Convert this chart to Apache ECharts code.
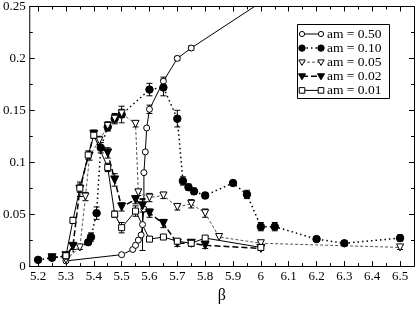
<!DOCTYPE html>
<html><head><meta charset="utf-8">
<script src="https://cdn.jsdelivr.net/npm/echarts@6/dist/echarts.min.js"></script>
<style>html,body{margin:0;padding:0;background:#fff}#c{width:415px;height:309px}</style>
</head><body><div id="c"></div>
<script>
// ---- data ----
const xMajor = [5.2,5.3,5.4,5.5,5.6,5.7,5.8,5.9,6.0,6.1,6.2,6.3,6.4,6.5];
const xTickLabels = ['5.2','5.3','5.4','5.5','5.6','5.7','5.8','5.9','6','6.1','6.2','6.3','6.4','6.5'];
const xMinor = [5.25,5.35,5.45,5.55,5.65,5.75,5.85,5.95,6.05,6.15,6.25,6.35,6.45];
const yTickLabels = ['0','0.05','0.1','0.15','0.2','0.25'];

const am050 = [[5.3,0.005],[5.5,0.011],[5.54,0.016],[5.55,0.02],[5.56,0.025],[5.57,0.03],[5.575,0.04],[5.58,0.055],[5.58,0.09],[5.585,0.11],[5.59,0.133],[5.6,0.151],[5.65,0.178],[5.7,0.2],[5.75,0.21],[6.0,0.254]];
const err050 = [0,0,0,0,0,0,0.025,0,0,0,0,0.004,0.004,0.002,0.002,0];

const am010 = [[5.2,0.006],[5.25,0.008],[5.3,0.0095],[5.38,0.023],[5.39,0.028],[5.41,0.051],[5.425,0.114],[5.45,0.134],[5.475,0.142],[5.5,0.146],[5.6,0.170],[5.65,0.172],[5.7,0.142],[5.72,0.082],[5.74,0.076],[5.76,0.072],[5.8,0.068],[5.9,0.080],[5.95,0.069],[6.0,0.038],[6.05,0.038],[6.2,0.026],[6.3,0.022],[6.5,0.027]];
const err010 = [0,0,0.002,0.002,0.004,0.006,0.005,0.004,0.005,0.008,0.006,0.008,0.008,0.004,0.003,0.003,0.003,0.002,0.004,0.004,0.004,0.002,0.002,0.003];

const am005 = [[5.3,0.006],[5.35,0.018],[5.37,0.067],[5.385,0.106],[5.42,0.121],[5.45,0.135],[5.475,0.142],[5.5,0.147],[5.55,0.137],[5.56,0.071],[5.6,0.066],[5.65,0.068],[5.7,0.057],[5.75,0.060],[5.8,0.051],[5.85,0.028],[6.0,0.022],[6.5,0.018]];
const err005 = [0,0.002,0.004,0.004,0.004,0.004,0.004,0.004,0.003,0.003,0.004,0.003,0.003,0.004,0.004,0,0.002,0.002];

const am002 = [[5.25,0.008],[5.3,0.010],[5.325,0.019],[5.35,0.074],[5.4,0.127],[5.45,0.109],[5.475,0.083],[5.5,0.057],[5.55,0.064],[5.575,0.058],[5.6,0.051],[5.65,0.041],[5.7,0.022],[5.75,0.022],[5.8,0.020],[6.0,0.017]];
const err002 = [0,0,0.003,0.007,0.004,0.005,0.006,0.004,0.004,0.006,0.004,0.004,0.003,0.003,0.003,0.002];

const am001 = [[5.3,0.010],[5.325,0.044],[5.35,0.075],[5.38,0.107],[5.4,0.126],[5.45,0.095],[5.475,0.05],[5.5,0.037],[5.55,0.053],[5.6,0.026],[5.65,0.028],[5.7,0.024],[5.75,0.022],[5.8,0.027],[6.0,0.018]];
const err001 = [0,0.003,0.004,0.004,0.003,0.004,0.003,0.005,0.005,0.002,0.002,0.002,0.002,0.002,0.002];

const legendLabels = ['am = 0.50','am = 0.10','am = 0.05','am = 0.02','am = 0.01'];

// ---- chart ----
const FONT = "Liberation Serif";
function errData(d, e){ const out=[]; d.forEach((p,i)=>{ if(e[i]>0) out.push([p[0],p[1]-e[i],p[1]+e[i]]); }); return out; }
function errSeries(d,e,color){
  return {type:'custom', clip:true, data:errData(d,e), z:3, silent:true,
    renderItem:function(params, api){
      const x=api.value(0), lo=api.coord([x,api.value(1)]), hi=api.coord([x,api.value(2)]);
      const st={stroke:color, lineWidth:1};
      return {type:'group', children:[
        {type:'line', shape:{x1:lo[0],y1:lo[1],x2:hi[0],y2:hi[1]}, style:st},
        {type:'line', shape:{x1:lo[0]-3,y1:lo[1],x2:lo[0]+3,y2:lo[1]}, style:st},
        {type:'line', shape:{x1:hi[0]-3,y1:hi[1],x2:hi[0]+3,y2:hi[1]}, style:st}
      ]};
    }};
}
function xAx(pos, values, len, labels){
  return {type:'value', min:5.17, max:6.55, position:pos, scale:true,
    axisLine:{show:true, onZero:false, lineStyle:{color:'#000', width:1}},
    splitLine:{show:false},
    axisTick:{show:true, inside:true, length:len, customValues:values, lineStyle:{color:'#000'}},
    axisLabel:{show:labels, customValues:values, fontFamily:FONT, fontSize:13, color:'#000', margin:4,
      formatter:function(v){ const i=xMajor.findIndex(m=>Math.abs(m-v)<1e-6); return i>=0?xTickLabels[i]:''; }},
    name: labels?'β':'', nameLocation:'middle', nameGap:21, nameTextStyle:{fontFamily:FONT, fontSize:16, color:'#000'}};
}
function yAx(pos, labels){
  return {type:'value', min:0, max:0.25, interval:0.05, position:pos,
    axisLine:{show:true, onZero:false, lineStyle:{color:'#000', width:1}},
    splitLine:{show:false},
    axisTick:{show:true, inside:true, length:5, lineStyle:{color:'#000'}},
    minorTick:{show:true, splitNumber:2, length:3, lineStyle:{color:'#000'}},
    axisLabel:{show:labels, fontFamily:FONT, fontSize:13, color:'#000', margin:4,
      formatter:function(v){ const i=Math.round(v/0.05); return yTickLabels[i]; }}};
}
const chart = echarts.init(document.getElementById('c'), null, {renderer:'canvas'});
const base = {type:'line', xAxisIndex:0, yAxisIndex:0, z:4, animation:false, clip:true};
// legend graphic
const LX1=302, LX2=321, TX=327, Y0=34, DY=14.1;
function legSym(kind, cx, cy){
  if(kind==='oc') return {type:'circle', shape:{cx:cx,cy:cy,r:2.6}, style:{fill:'#fff', stroke:'#000', lineWidth:1}};
  if(kind==='fc') return {type:'circle', shape:{cx:cx,cy:cy,r:3.2}, style:{fill:'#000', stroke:'#000'}};
  if(kind==='ot') return {type:'polygon', shape:{points:[[cx-3.2,cy-2.3],[cx+3.2,cy-2.3],[cx,cy+3.2]]}, style:{fill:'#fff', stroke:'#000', lineWidth:1}};
  if(kind==='ft') return {type:'polygon', shape:{points:[[cx-3.5,cy-2.5],[cx+3.5,cy-2.5],[cx,cy+3.5]]}, style:{fill:'#000', stroke:'#000'}};
  return {type:'rect', shape:{x:cx-2.8,y:cy-2.8,width:5.6,height:5.6}, style:{fill:'#fff', stroke:'#000', lineWidth:1}};
}
const kinds=['oc','fc','ot','ft','os'];
const dashes=[null,[1.5,3],[3,2],[6,3],null];
const legChildren=[{type:'rect', shape:{x:297.5,y:24.5,width:92,height:74}, style:{fill:'#fff', stroke:'#000', lineWidth:1}}];
legendLabels.forEach((t,i)=>{
  const cy=Y0+i*DY;
  legChildren.push({type:'line', shape:{x1:LX1,y1:cy,x2:LX2,y2:cy}, style:{stroke: i===2?'#555':'#000', lineWidth: (i===1||i===3)?1.5:1, lineDash:dashes[i]}});
  legChildren.push(legSym(kinds[i],LX1,cy));
  legChildren.push(legSym(kinds[i],LX2,cy));
  legChildren.push({type:'text', style:{x:TX,y:cy+0.5,text:t,fill:'#000',fontFamily:FONT,fontSize:13.5,verticalAlign:'middle'}});
});
chart.setOption({
  animation:false,
  grid:{left:26, right:1, top:5, bottom:32, containLabel:false},
  xAxis:[xAx('bottom',xMajor,5,true), xAx('bottom',xMinor,3,false), xAx('top',xMajor,5,false), xAx('top',xMinor,3,false)],
  yAxis:[yAx('left',true), yAx('right',false)],
  graphic:[{type:'group', z:100, children:legChildren}],
  series:[
    Object.assign({}, base, {name:'0.50', data:am050, symbol:'circle', symbolSize:6,
      lineStyle:{color:'#000', width:1}, itemStyle:{color:'#fff', borderColor:'#000', borderWidth:1}}),
    Object.assign({}, base, {name:'0.10', data:am010, symbol:'circle', symbolSize:7.5,
      lineStyle:{color:'#000', width:1.5, type:[1.5,3]}, itemStyle:{color:'#000', borderColor:'#000'}}),
    Object.assign({}, base, {name:'0.05', data:am005, symbol:'triangle', symbolRotate:180, symbolSize:7,
      lineStyle:{color:'#555', width:1, type:[3,2]}, itemStyle:{color:'#fff', borderColor:'#000', borderWidth:1}}),
    Object.assign({}, base, {name:'0.02', data:am002, symbol:'triangle', symbolRotate:180, symbolSize:8,
      lineStyle:{color:'#000', width:1.5, type:[6,3]}, itemStyle:{color:'#000', borderColor:'#000'}}),
    Object.assign({}, base, {name:'0.01', data:am001, symbol:'rect', symbolSize:6,
      lineStyle:{color:'#000', width:1}, itemStyle:{color:'#fff', borderColor:'#000', borderWidth:1}}),
    errSeries(am050,err050,'#000'), errSeries(am010,err010,'#000'), errSeries(am005,err005,'#000'),
    errSeries(am002,err002,'#000'), errSeries(am001,err001,'#000')
  ]
});
</script></body></html>
